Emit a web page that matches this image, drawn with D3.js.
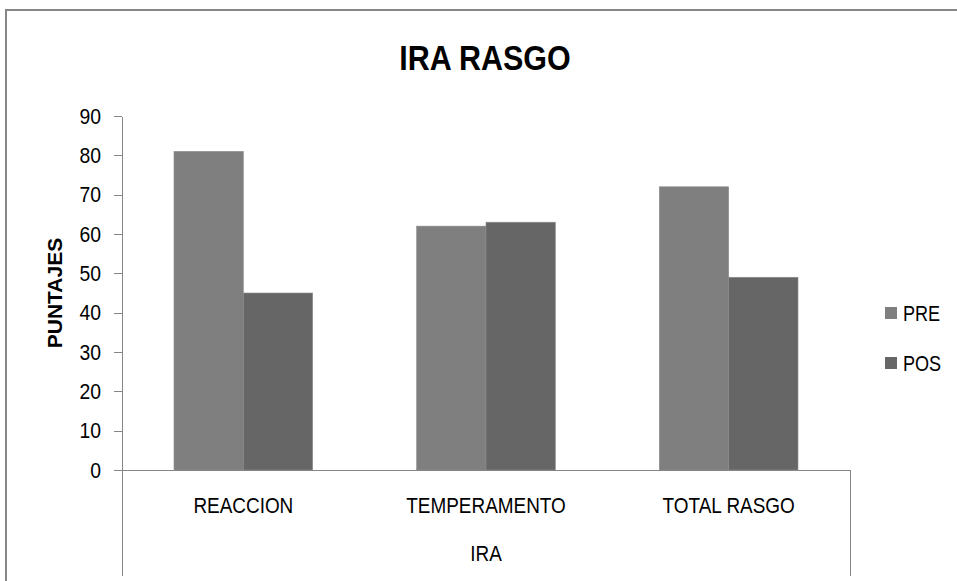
<!DOCTYPE html>
<meta charset="utf-8">
<head>
    <script src="https://d3js.org/d3.v7.min.js"></script>
    <style>
        body {
            margin: 0;
            background: #fff;
            font-family: "Liberation Sans", sans-serif;
        }
        .axis path,
        .axis line {
            fill: none;
            stroke: #868686;
            shape-rendering: crispEdges;
        }
        .axis text {
            font: 22px "Liberation Sans", sans-serif;
            fill: #000;
        }
    </style>
</head>
<body>
<div id="chart"></div>
<script>
    var categories = ["REACCION", "TEMPERAMENTO", "TOTAL RASGO"];
    var series = ["PRE", "POS"];
    var preValues = [81, 62, 72];
    var posValues = [45, 63, 49];
    var yTicks = [0, 10, 20, 30, 40, 50, 60, 70, 80, 90];

    var colors = {"PRE": "#7f7f7f", "POS": "#666666"};

    var data = categories.map(function (c, i) {
        return {category: c, values: [{key: "PRE", value: preValues[i]}, {key: "POS", value: posValues[i]}]};
    });

    var width = 957, height = 581;
    var plot = {left: 122, right: 850, top: 116, bottom: 470};

    // squeeze text horizontally (the original font is a narrow one)
    var condense = function (sel, k) {
        sel.each(function () {
            var len = this.getComputedTextLength();
            d3.select(this)
                .attr("textLength", len * k)
                .attr("lengthAdjust", "spacingAndGlyphs");
        });
    };

    var svg = d3.select("#chart").append("svg")
        .attr("width", width)
        .attr("height", height);

    // outer chart frame (runs off the right/bottom edge like the screenshot)
    svg.append("rect")
        .attr("x", 6)
        .attr("y", 10)
        .attr("width", 980)
        .attr("height", 600)
        .attr("fill", "none")
        .attr("stroke", "#878787")
        .attr("stroke-width", 2);

    var x0 = d3.scaleBand().domain(categories).range([plot.left, plot.right]).paddingInner(0).paddingOuter(0);
    var x1 = d3.scaleBand().domain(series).range([0, x0.bandwidth()]).paddingInner(0).paddingOuter(0.75);
    var y = d3.scaleLinear().domain([0, 90]).range([plot.bottom, plot.top]);

    svg.append("text")
        .attr("x", 485)
        .attr("y", 70)
        .attr("text-anchor", "middle")
        .style("font", "bold 35px 'Liberation Sans', sans-serif")
        .text("IRA RASGO")
        .call(condense, 0.87);

    // bars
    var groups = svg.selectAll(".group")
        .data(data)
        .enter().append("g")
        .attr("class", "group")
        .attr("transform", function (d) { return "translate(" + x0(d.category) + ",0)"; });

    groups.selectAll("rect")
        .data(function (d) { return d.values; })
        .enter().append("rect")
        .attr("x", function (d) { return x1(d.key); })
        .attr("y", function (d) { return y(d.value); })
        .attr("width", x1.bandwidth())
        .attr("height", function (d) { return y(0) - y(d.value); })
        .attr("fill", function (d) { return colors[d.key]; })
        .attr("stroke", "#8c8c8c")
        .attr("stroke-width", 0.6);

    // y axis
    var yAxis = svg.append("g")
        .attr("class", "axis")
        .attr("transform", "translate(" + plot.left + ",0)")
        .call(d3.axisLeft(y).tickValues(yTicks).tickSize(8).tickPadding(13).tickSizeOuter(0));
    yAxis.selectAll("text").call(condense, 0.88);

    // x axis line + category dividers
    var xAxis = svg.append("g")
        .attr("class", "axis")
        .attr("transform", "translate(0," + plot.bottom + ")")
        .call(d3.axisBottom(x0).tickSize(0).tickPadding(24).tickSizeOuter(0));
    xAxis.selectAll("text").attr("dy", "0.71em").attr("y", 27).call(condense, 0.86);

    svg.append("g").attr("class", "axis")
        .selectAll("line")
        .data([plot.left, plot.right])
        .enter().append("line")
        .attr("x1", function (d) { return d; })
        .attr("x2", function (d) { return d; })
        .attr("y1", plot.bottom)
        .attr("y2", 576);

    svg.append("text")
        .attr("x", (plot.left + plot.right) / 2)
        .attr("y", 561)
        .attr("text-anchor", "middle")
        .style("font", "22px 'Liberation Sans', sans-serif")
        .text("IRA")
        .call(condense, 0.86);

    svg.append("text")
        .attr("transform", "translate(62," + (plot.top + plot.bottom) / 2 + ") rotate(-90)")
        .attr("text-anchor", "middle")
        .style("font", "bold 21px 'Liberation Sans', sans-serif")
        .text("PUNTAJES");

    // legend
    var legend = svg.selectAll(".legend")
        .data(series)
        .enter().append("g")
        .attr("class", "legend")
        .attr("transform", function (d, i) { return "translate(885," + (307 + i * 50) + ")"; });

    legend.append("rect")
        .attr("width", 12)
        .attr("height", 12)
        .attr("fill", function (d) { return colors[d]; });

    legend.append("text")
        .attr("x", 18)
        .attr("y", 6)
        .attr("dy", "0.35em")
        .style("font", "22px 'Liberation Sans', sans-serif")
        .text(function (d) { return d; })
        .call(condense, 0.82);
</script>
</body>
